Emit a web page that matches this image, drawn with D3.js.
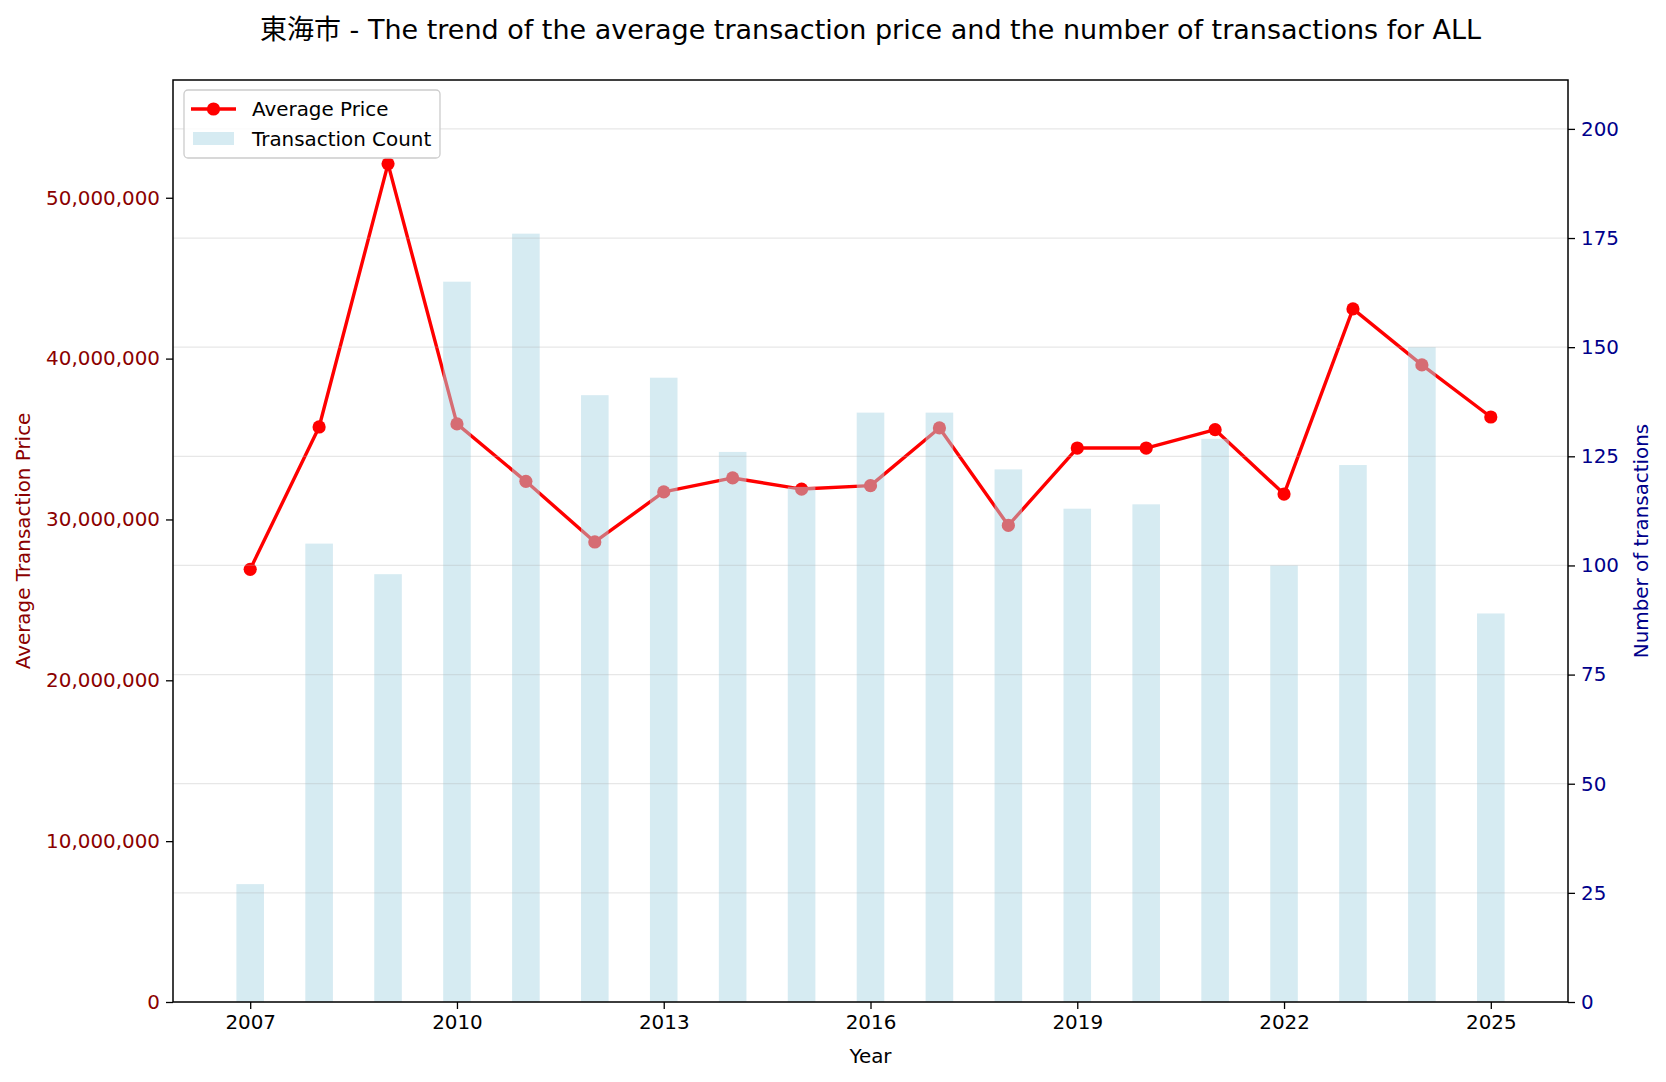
<!DOCTYPE html>
<html>
<head>
<meta charset="utf-8">
<script src="https://cdn.jsdelivr.net/npm/d3@7"></script>
<style>
  body { margin: 0; background: #fff; }
  text { font-family: "DejaVu Sans", "Noto Sans CJK JP", sans-serif; }
</style>
</head>
<body>
<svg id="chart" width="1666" height="1082"></svg>
<script>
// data
const years = [2007, 2008, 2009, 2010, 2011, 2012, 2013, 2014, 2015, 2016,
               2017, 2018, 2019, 2020, 2021, 2022, 2023, 2024, 2025]
const avgPrice = [26900000, 35750000, 52110000, 35940000, 32370000, 28600000, 31710000,
                  32580000, 31890000, 32100000, 35690000, 29630000, 34440000, 34440000,
                  35580000, 31580000, 43090000, 39610000, 36370000]
const txCount = [27, 105, 98, 165, 176, 139, 143, 126, 118, 135,
                 135, 122, 113, 114, 129, 100, 123, 150, 89]
const yearTicks = [2007, 2010, 2013, 2016, 2019, 2022, 2025]
const priceTicks = [0, 10000000, 20000000, 30000000, 40000000, 50000000]
const countTicks = [0, 25, 50, 75, 100, 125, 150, 175, 200]

const titleText = '東海市 - The trend of the average transaction price and the number of transactions for ALL'

var svg = d3.select('#chart')
var pLeft = 173, pRight = 1568, pTop = 80, pBottom = 1002
var barW = 0.4
var fs = 19.9
var lineW = 3.4, dotR = 6.6

var span = (d3.max(years) + barW / 2) - (d3.min(years) - barW / 2)
var x = d3.scaleLinear()
    .domain([d3.min(years) - barW / 2 - span * 0.05, d3.max(years) + barW / 2 + span * 0.05])
    .range([pLeft, pRight])
var yL = d3.scaleLinear().domain([0, d3.max(avgPrice) * 1.1]).range([pBottom, pTop])
var yR = d3.scaleLinear().domain([0, d3.max(txCount) * 1.2]).range([pBottom, pTop])

var plot = svg.append('g')

// price line (sits under the bar axis)
var line = d3.line().x((d, i) => x(years[i])).y(d => yL(d))
plot.append('path')
  .datum(avgPrice)
  .attr('d', line)
  .attr('fill', 'none')
  .attr('stroke', '#ff0000')
  .attr('stroke-width', lineW)
  .attr('stroke-linejoin', 'round')

plot.selectAll('circle.pt')
  .data(avgPrice)
  .enter().append('circle')
    .attr('class', 'pt')
    .attr('cx', (d, i) => x(years[i]))
    .attr('cy', d => yL(d))
    .attr('r', dotR)
    .attr('fill', '#ff0000')

// count bars
plot.selectAll('rect.bar')
  .data(txCount)
  .enter().append('rect')
    .attr('class', 'bar')
    .attr('x', (d, i) => x(years[i] - barW / 2))
    .attr('width', x(barW) - x(0))
    .attr('y', d => yR(d))
    .attr('height', d => yR(0) - yR(d))
    .attr('fill', '#add8e6')
    .attr('fill-opacity', 0.5)

// grid from the right axis
plot.selectAll('line.grid')
  .data(countTicks)
  .enter().append('line')
    .attr('class', 'grid')
    .attr('x1', pLeft).attr('x2', pRight)
    .attr('y1', d => yR(d)).attr('y2', d => yR(d))
    .attr('stroke', '#b0b0b0')
    .attr('stroke-opacity', 0.3)
    .attr('stroke-width', 1.2)

// frame
svg.append('rect')
  .attr('x', pLeft).attr('y', pTop)
  .attr('width', pRight - pLeft).attr('height', pBottom - pTop)
  .attr('fill', 'none').attr('stroke', '#000').attr('stroke-width', 1.5)

// axes
var xAxis = d3.axisBottom(x).tickValues(yearTicks).tickFormat(d3.format('d')).tickSize(7).tickPadding(6)
var gx = svg.append('g').attr('transform', 'translate(0,' + pBottom + ')').call(xAxis)

var lAxis = d3.axisLeft(yL).tickValues(priceTicks).tickFormat(d3.format(',')).tickSize(7).tickPadding(6)
var gl = svg.append('g').attr('transform', 'translate(' + pLeft + ',0)').call(lAxis)

var rAxis = d3.axisRight(yR).tickValues(countTicks).tickSize(7).tickPadding(6)
var gr = svg.append('g').attr('transform', 'translate(' + pRight + ',0)').call(rAxis)

;[gx, gl, gr].forEach(g => {
  g.select('.domain').remove()
  g.selectAll('.tick line').attr('stroke', '#000').attr('stroke-width', 1.3)
  g.selectAll('.tick text').attr('font-size', fs).attr('font-family', null)
})
gx.selectAll('.tick text').attr('fill', '#000')
gl.selectAll('.tick text').attr('fill', '#8b0000')
gr.selectAll('.tick text').attr('fill', '#00008b')

// labels
svg.append('text')
  .attr('x', (pLeft + pRight) / 2).attr('y', 29)
  .attr('text-anchor', 'middle').attr('dominant-baseline', 'central')
  .attr('font-size', 27).attr('fill', '#000')
  .text(titleText)

svg.append('text')
  .attr('x', (pLeft + pRight) / 2).attr('y', 1056)
  .attr('text-anchor', 'middle').attr('dominant-baseline', 'central')
  .attr('font-size', fs).attr('fill', '#000')
  .text('Year')

svg.append('text')
  .attr('transform', 'translate(23,' + (pTop + pBottom) / 2 + ') rotate(-90)')
  .attr('text-anchor', 'middle').attr('dominant-baseline', 'central')
  .attr('font-size', fs).attr('fill', '#8b0000')
  .text('Average Transaction Price')

svg.append('text')
  .attr('transform', 'translate(1641,' + (pTop + pBottom) / 2 + ') rotate(-90)')
  .attr('text-anchor', 'middle').attr('dominant-baseline', 'central')
  .attr('font-size', fs).attr('fill', '#00008b')
  .text('Number of transactions')

// legend
var lg = svg.append('g')
lg.append('rect')
  .attr('x', 184).attr('y', 90).attr('width', 256).attr('height', 68).attr('rx', 4)
  .attr('fill', '#fff').attr('fill-opacity', 0.8)
  .attr('stroke', '#cccccc').attr('stroke-width', 1.3)
lg.append('line')
  .attr('x1', 191).attr('x2', 236).attr('y1', 109).attr('y2', 109)
  .attr('stroke', '#ff0000').attr('stroke-width', lineW)
lg.append('circle').attr('cx', 213.5).attr('cy', 109).attr('r', dotR).attr('fill', '#ff0000')
lg.append('rect')
  .attr('x', 193).attr('y', 132).attr('width', 41).attr('height', 13)
  .attr('fill', '#add8e6').attr('fill-opacity', 0.5)
lg.append('text').attr('x', 252).attr('y', 109).attr('dominant-baseline', 'central')
  .attr('font-size', fs).attr('fill', '#000').text('Average Price')
lg.append('text').attr('x', 252).attr('y', 139).attr('dominant-baseline', 'central')
  .attr('font-size', fs).attr('fill', '#000').text('Transaction Count')
</script>
</body>
</html>
